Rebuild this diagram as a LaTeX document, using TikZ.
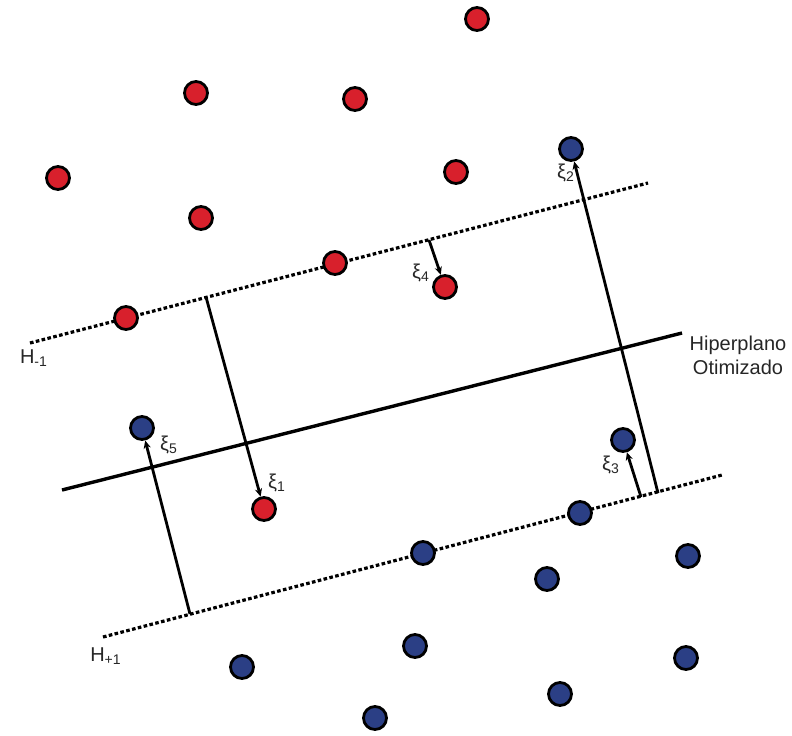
\documentclass[tikz,border=0pt]{standalone}
\usepackage{fontspec}
\setmainfont{Liberation Sans}
\usetikzlibrary{arrows.meta}
\definecolor{ptred}{HTML}{D8202C}
\definecolor{ptblue}{HTML}{2B3F85}

\begin{document}
\begin{tikzpicture}[x=0.5pt,y=-0.5pt,
  redpt/.style={circle,draw=black,line width=1.4pt,fill=ptred,minimum size=11.5pt,inner sep=0pt},
  bluept/.style={circle,draw=black,line width=1.4pt,fill=ptblue,minimum size=11.5pt,inner sep=0pt},
  margin/.style={line width=1.6pt,dash pattern=on 1.8pt off 1.2pt},
  slack/.style={line width=1.4pt,-{Stealth[length=4pt,width=3.6pt]}},
  lbl/.style={font=\normalsize,text=black!85,inner sep=1pt}]
  \useasboundingbox (0,0) rectangle (792,735);
  % margins and separating hyperplane
  \draw[margin] (30,343)--(648,183);
  \draw[margin] (103,637)--(722,475);
  \draw[line width=1.7pt] (62,490)--(682,333);
  \node[lbl,align=center] (hp) at (738,355) {Hiperplano\\Otimizado};
  \node[lbl] (hm) at (34,358) {H\textsubscript{-1}};
  \node[lbl] (hp1) at (106,656) {H\textsubscript{+1}};
  % class -1
  \node[redpt] (r1) at (477,19) {};
  \node[redpt] (r2) at (196,93) {};
  \node[redpt] (r3) at (355,99) {};
  \node[redpt] (r4) at (58,178) {};
  \node[redpt] (r5) at (456,172) {};
  \node[redpt] (r6) at (201,218) {};
  \node[redpt] (r7) at (335,263) {};
  \node[redpt] (r8) at (445,287) {};
  \node[redpt] (r9) at (126,318) {};
  \node[redpt] (r10) at (264,509) {};
  % class +1
  \node[bluept] (b1) at (571,149) {};
  \node[bluept] (b2) at (142,428) {};
  \node[bluept] (b3) at (623,440) {};
  \node[bluept] (b4) at (580,513) {};
  \node[bluept] (b5) at (423,553) {};
  \node[bluept] (b6) at (688,556) {};
  \node[bluept] (b7) at (547,579) {};
  \node[bluept] (b8) at (415,646) {};
  \node[bluept] (b9) at (242,667) {};
  \node[bluept] (b10) at (686,658) {};
  \node[bluept] (b11) at (560,694) {};
  \node[bluept] (b12) at (375,718) {};
  % slack variables
  \coordinate (s1) at (206,297);
  \coordinate (s2) at (658,493);
  \coordinate (s3) at (641,497);
  \coordinate (s4) at (429,240);
  \coordinate (s5) at (190,614);
  \draw[slack] (s1)--(r10);
  \draw[slack] (s2)--(b1);
  \draw[slack] (s3)--(b3);
  \draw[slack] (s4)--(r8);
  \draw[slack] (s5)--(b2);
  \node[lbl] (x1) at (277,483) {ξ\textsubscript{1}};
  \node[lbl] (x2) at (566,173) {ξ\textsubscript{2}};
  \node[lbl] (x3) at (611,465) {ξ\textsubscript{3}};
  \node[lbl] (x4) at (421,273) {ξ\textsubscript{4}};
  \node[lbl] (x5) at (169,445) {ξ\textsubscript{5}};
\end{tikzpicture}
\end{document}
